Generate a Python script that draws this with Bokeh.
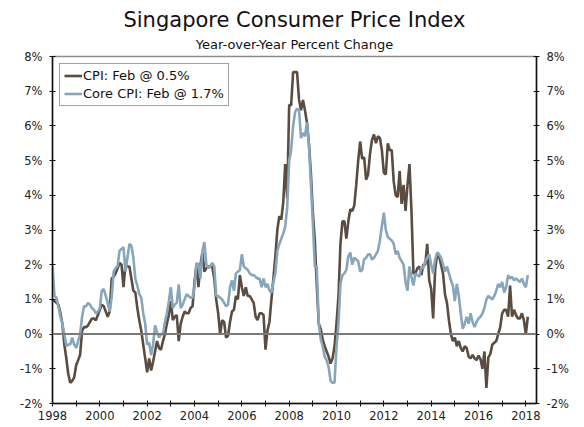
import pandas as pd
from bokeh.plotting import figure
from bokeh.models import (LinearAxis, Range1d, FixedTicker, PrintfTickFormatter,
                          Span, Title)
from bokeh.embed import file_html
from bokeh.resources import INLINE

# ---------------- data (monthly, Jan 1998 - Feb 2018, % y/y) ----------------
start_month = "1998-01"

cpi = [
    1.0, 0.95, 0.9, 0.85, 0.6, 0.3, -0.3, -0.7, -1.15, -1.4, -1.35, -1.25,      # 1998
    -0.9, -0.75, -0.6, 0.1, 0.2, 0.2, 0.25, 0.35, 0.45, 0.45, 0.4, 0.55,        # 1999
    0.7, 0.85, 0.8, 0.65, 0.5, 0.65, 1.6, 1.65, 1.75, 1.9, 2.05, 2.0,           # 2000
    1.35, 2.0, 1.95, 1.95, 1.6, 1.25, 1.2, 0.75, 0.4, 0.1, -0.3, -0.7,          # 2001
    -1.1, -0.7, -1.05, -0.8, -0.5, -0.2, -0.4, -0.45, -0.2, 0.0, 0.3, 0.55,     # 2002
    0.95, 0.4, 0.5, 0.55, -0.2, 0.3, 0.5, 0.65, 0.6, 0.6, 0.75, 0.8,            # 2003
    1.5, 2.0, 1.35, 2.0, 2.35, 1.8, 1.9, 1.95, 1.95, 1.95, 1.6, 1.0,            # 2004
    0.6, 0.0, 0.4, 0.35, -0.1, -0.05, 0.35, 0.65, 0.7, 1.1, 1.0, 1.7,           # 2005
    1.35, 1.1, 1.35, 1.1, 1.1, 1.0, 0.9, 0.5, 0.4, 0.6, 0.6, 0.55,              # 2006
    -0.45, 0.1, 0.35, 1.0, 1.6, 2.25, 3.0, 3.4, 3.3, 3.8, 4.9, 3.9,             # 2007
    6.6, 6.6, 7.55, 7.55, 7.55, 6.75, 6.45, 6.75, 6.45, 6.1, 5.5, 4.65,         # 2008
    3.5, 2.7, 1.4, 0.3, 0.15, -0.15, -0.35, -0.5, -0.65, -0.85, -0.7, -0.35,    # 2009
    0.3, 1.1, 2.6, 3.25, 3.25, 2.75, 3.25, 3.6, 3.55, 3.7, 4.3, 5.0,            # 2010
    5.55, 5.05, 5.1, 4.45, 4.6, 5.2, 5.6, 5.75, 5.5, 5.7, 5.65, 5.3,            # 2011
    4.65, 4.6, 5.5, 5.3, 5.3, 4.4, 4.0, 3.95, 4.7, 3.75, 4.3, 3.55,             # 2012
    4.3, 4.9, 3.55, 1.75, 1.75, 1.9, 1.95, 1.7, 2.0, 2.0, 2.6, 1.55,            # 2013
    1.3, 0.45, 1.85, 2.3, 2.25, 2.0, 1.75, 1.15, 0.9, 0.4, 0.0, -0.2,           # 2014
    -0.1, -0.35, -0.2, -0.4, -0.5, -0.35, -0.4, -0.65, -0.7, -0.6, -0.7, -0.75, # 2015
    -0.62, -0.72, -1.0, -0.5, -1.55, -0.67, -0.57, -0.3, -0.25, -0.2, 0.0, 0.2, # 2016
    0.6, 0.7, 0.7, 0.5, 1.4, 0.5, 0.7, 0.55, 0.45, 0.45, 0.6, 0.4,              # 2017
    0.0, 0.5,                                                                   # 2018
]

core = [
    1.96, 1.1, 1.05, 0.8, 0.5, 0.3, 0.0, -0.35, -0.3, -0.3, -0.1, -0.3,         # 1998
    -0.4, -0.2, 0.0, 0.5, 0.8, 0.8, 0.9, 0.85, 0.75, 0.7, 0.6, 0.65,            # 1999
    0.75, 1.25, 1.3, 1.1, 0.9, 0.65, 1.05, 1.8, 1.9, 1.96, 2.4, 2.45,           # 2000
    2.5, 1.8, 2.2, 2.6, 2.55, 2.2, 1.6, 1.4, 1.15, 1.05, 0.6, 0.3,              # 2001
    -0.3, -0.25, -0.6, -0.3, 0.25, 0.05, -0.1, 0.0, 0.0, 0.35, 0.6, 0.95,       # 2002
    1.35, 0.75, 0.85, 0.9, 1.43, 0.75, 0.85, 1.0, 1.15, 1.1, 1.05, 1.05,        # 2003
    1.35, 2.05, 2.0, 1.6, 2.4, 2.65, 2.0, 1.9, 1.95, 2.05, 1.95, 1.1,           # 2004
    1.1, 1.05, 1.0, 0.9, 0.8, 0.85, 1.35, 1.55, 1.25, 1.75, 1.8, 1.85,          # 2005
    2.3, 1.95, 1.9, 1.85, 1.75, 1.7, 1.7, 1.65, 1.6, 1.6, 1.35, 1.6,            # 2006
    1.35, 1.45, 1.25, 1.2, 1.5, 1.75, 2.4, 2.6, 2.75, 2.9, 3.1, 3.65,           # 2007
    5.0, 5.3, 6.0, 6.4, 6.5, 6.45, 5.65, 5.8, 5.7, 6.1, 5.45, 4.35,             # 2008
    3.2, 1.95, 1.95, 0.3, -0.15, -0.35, -0.65, -0.75, -0.95, -1.35, -1.4, -1.4, # 2009
    -0.35, 0.3, 1.45, 1.7, 1.75, 1.85, 2.25, 2.35, 2.0, 2.2, 2.15, 2.1,         # 2010
    1.8, 1.85, 2.15, 2.2, 2.3, 2.3, 2.15, 2.2, 2.3, 2.4, 2.7, 3.1,              # 2011
    3.5, 3.0, 2.8, 2.75, 2.7, 2.6, 2.3, 2.4, 2.2, 2.1, 2.0, 1.5,                # 2012
    1.25, 1.95, 1.65, 1.4, 1.75, 1.7, 1.65, 1.95, 1.9, 2.1, 2.2, 2.3,           # 2013
    2.0, 1.75, 2.15, 2.35, 2.3, 2.2, 2.0, 1.8, 1.95, 1.75, 1.55, 1.4,           # 2014
    0.95, 1.45, 1.1, 0.6, 0.15, 0.3, 0.5, 0.3, 0.6, 0.35, 0.2, 0.35,            # 2015
    0.45, 0.5, 0.6, 0.75, 1.0, 1.1, 1.05, 1.0, 1.1, 1.25, 1.45, 1.35,           # 2016
    1.5, 1.2, 1.35, 1.7, 1.6, 1.65, 1.55, 1.6, 1.55, 1.5, 1.6, 1.45,            # 2017
    1.35, 1.7,                                                                  # 2018
]

year_ticks = list(range(1998, 2019))
year_labels = {y: (str(y) if y % 2 == 0 else "") for y in year_ticks}
pct_ticks = list(range(-2, 9))

title_text = "Singapore Consumer Price Index"
subtitle_text = "Year-over-Year Percent Change"
cpi_label = f"CPI: Feb @ {cpi[-1]}%"
core_label = f"Core CPI: Feb @ {core[-1]}%"

# ---------------- build ----------------
months = pd.date_range(start_month, periods=len(cpi), freq="MS")
xdec = [d.year + (d.month - 1) / 12 for d in months]

FONT = "DejaVu Sans"
CPI_COLOR = "#5a4c41"
CORE_COLOR = "#87a6ba"

p = figure(frame_width=484, frame_height=347, output_backend="svg",
           toolbar_location=None, x_range=Range1d(1998, 2018.45),
           y_range=Range1d(-2, 8), min_border_left=52, min_border_right=39,
           min_border_top=0, min_border_bottom=0)
p.background_fill_color = "white"
p.border_fill_color = "white"
p.outline_line_color = "#8c8c8c"
p.outline_line_width = 1.5
p.xgrid.visible = False
p.ygrid.visible = False

sub = Title(text=subtitle_text, align="center", text_font=FONT,
            text_font_size="13px", text_font_style="normal",
            text_color="#111111", standoff=10, offset=0)
main = Title(text=title_text, align="center", text_font=FONT,
             text_font_size="21px", text_font_style="normal",
             text_color="#111111", standoff=-5)
spacer = Title(text=" ", text_font_size="5px", standoff=0)
p.add_layout(sub, "above")
p.add_layout(main, "above")
p.add_layout(spacer, "above")

p.add_layout(Span(location=0, dimension="width", line_color="#7a7a7a",
                  line_width=2))

p.line(xdec, cpi, line_color=CPI_COLOR, line_width=2.6, legend_label=cpi_label)
p.line(xdec, core, line_color=CORE_COLOR, line_width=2.6, legend_label=core_label)


def style_axis(ax):
    ax.axis_line_color = "#111111"
    ax.axis_line_width = 1.5
    ax.major_tick_line_color = "#111111"
    ax.major_tick_in = 3
    ax.major_tick_out = 3
    ax.minor_tick_line_color = None
    ax.major_label_text_font = FONT
    ax.major_label_text_font_size = "11.5px"
    ax.major_label_text_color = "#222222"


xax = p.xaxis[0]
xax.ticker = FixedTicker(ticks=year_ticks)
xax.major_label_overrides = year_labels
xax.major_label_standoff = 4
style_axis(xax)

yax = p.yaxis[0]
yax.ticker = FixedTicker(ticks=pct_ticks)
yax.formatter = PrintfTickFormatter(format="%d%%")
yax.major_label_standoff = 7
style_axis(yax)

rax = LinearAxis(ticker=FixedTicker(ticks=pct_ticks),
                 formatter=PrintfTickFormatter(format="%d%%"))
rax.major_label_standoff = 7
style_axis(rax)
p.add_layout(rax, "right")

lg = p.legend[0]
lg.location = "top_left"
lg.margin = 7
lg.padding = 4
lg.spacing = 3
lg.glyph_width = 18
lg.glyph_height = 15
lg.label_height = 15
lg.label_standoff = 1
lg.label_text_font = FONT
lg.label_text_font_size = "13px"
lg.label_text_color = "#111111"
lg.border_line_color = "#444444"
lg.border_line_width = 1
lg.background_fill_alpha = 1.0

open("out.html", "w").write(file_html(p, INLINE))
